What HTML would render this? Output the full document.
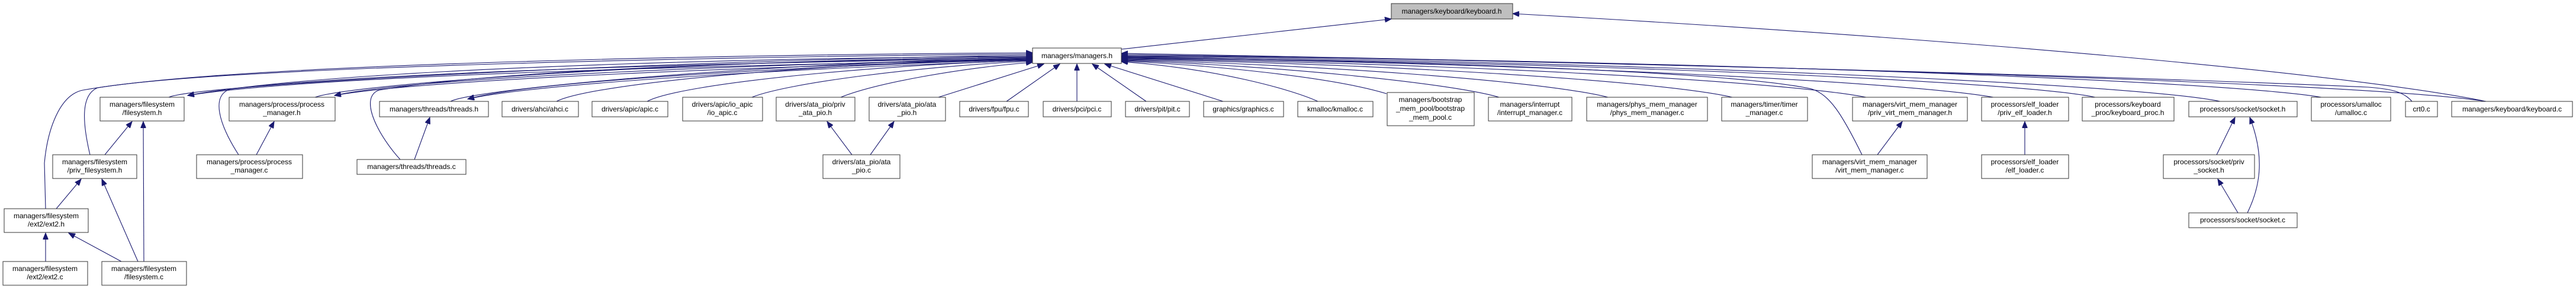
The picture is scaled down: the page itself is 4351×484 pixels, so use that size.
<!DOCTYPE html>
<html><head><meta charset="utf-8"><style>
html,body{margin:0;padding:0;background:#fff;}
svg{display:block;}
text{font-family:"Liberation Sans",sans-serif;font-size:12px;fill:#000;text-anchor:middle;}
.e{fill:none;stroke:#191970;stroke-width:1.1;}
.a{fill:none;stroke:#191970;stroke-width:1.1;marker-end:url(#ah);}
rect{fill:#fff;stroke:#333;stroke-width:1;}
</style></head><body>
<svg width="4351" height="484" viewBox="0 0 4351 484" xmlns="http://www.w3.org/2000/svg">
<defs><marker id="ah" markerUnits="userSpaceOnUse" markerWidth="12" markerHeight="9" refX="11" refY="4.5" orient="auto"><path d="M0,0 L11,4.5 L0,9 z" fill="#191970" stroke="#191970"/></marker></defs>

<!-- edges into managers.h, left side -->
<path class="a" d="M77,352 L75,275 C80,220 100,160 140,152 C400,105 1300,92 1744,89"/>
<path class="a" d="M152,261 C140,210 135,160 165,148 C400,110 1300,95 1744,91"/>
<path class="a" d="M285,164 C340,140 1200,100 1744,93"/>
<path class="a" d="M403,261 C370,210 355,160 390,150 C700,110 1400,96 1744,95"/>
<path class="a" d="M532,164 C600,140 1200,100 1744,96"/>
<path class="a" d="M676,269 C640,230 605,165 640,152 C900,110 1500,100 1744,97"/>
<path class="a" d="M761,171 C800,150 1300,105 1744,98"/>
<path class="a" d="M940,171 C1000,140 1400,105 1744,100"/>
<path class="a" d="M1093,171 C1150,140 1500,108 1744,102"/>
<path class="a" d="M1270,164 C1330,140 1550,112 1744,103"/>
<path class="a" d="M1420,164 C1480,140 1620,115 1744,105"/>
<path class="a" d="M1585,164 L1763,108"/>
<path class="a" d="M1700,171 L1790,108"/>
<path class="a" d="M1819,171 L1819,108"/>
<path class="a" d="M1936,171 L1845,108"/>
<path class="a" d="M2066,171 L1866,108"/>
<!-- extra arrows into filesystem.h / process_manager.h / threads.h -->
<path class="a" d="M1744,99 C1200,105 500,125 317,161"/>
<path class="a" d="M1744,101 C1200,110 520,128 317,161"/>
<path class="a" d="M1744,99 C1300,108 700,130 565,161"/>
<path class="a" d="M1744,101 C1300,112 720,133 565,161"/>
<path class="a" d="M1744,100 C1400,110 900,135 790,167"/>
<path class="a" d="M1744,102 C1400,113 920,138 790,167"/>
<!-- right side -->
<path class="a" d="M2226,171 C2180,150 2050,115 1894,104"/>
<path class="a" d="M2342,158 C2250,130 2050,110 1894,103"/>
<path class="a" d="M2532,164 C2450,140 2150,110 1894,102"/>
<path class="a" d="M2716,164 C2600,135 2200,108 1894,101"/>
<path class="a" d="M2926,164 C2800,135 2300,106 1894,100"/>
<path class="a" d="M3152,164 C3000,135 2400,105 1894,99"/>
<path class="a" d="M3367,164 C3200,135 2500,104 1894,98"/>
<path class="a" d="M3539,164 C3400,135 2600,103 1894,97"/>
<path class="a" d="M3145,261 C3110,190 3090,160 3060,150 C2900,115 2200,100 1894,96"/>
<path class="a" d="M3750,171 C3600,140 2700,102 1894,95"/>
<path class="a" d="M3921,164 C3750,135 2800,100 1894,94"/>
<path class="a" d="M4074,171 C4060,155 4040,150 4000,147 C3500,125 2500,100 1894,92"/>
<path class="a" d="M4199,171 C4000,140 3000,110 1894,90"/>
<!-- keyboard.h -->
<path class="a" d="M1894,83 L2350,32"/>
<path class="a" d="M4199,171 C4000,130 3400,70 2555,23"/>
<!-- local edges -->
<path class="a" d="M177,261 L223,205"/>
<path class="a" d="M243,441 L242,205"/>
<path class="a" d="M95,352 L137,302"/>
<path class="a" d="M233,441 L172,302"/>
<path class="a" d="M77,441 L77,393"/>
<path class="a" d="M205,441 L116,393"/>
<path class="a" d="M433,261 L463,205"/>
<path class="a" d="M700,269 L726,198"/>
<path class="a" d="M1439,261 L1397,205"/>
<path class="a" d="M1470,261 L1510,205"/>
<path class="a" d="M3171,261 L3213,205"/>
<path class="a" d="M3420,261 L3420,205"/>
<path class="a" d="M3744,261 L3775,198"/>
<path class="a" d="M3780,359 L3746,302"/>
<path class="a" d="M3796,359 C3815,320 3828,270 3800,198"/>

<!-- nodes -->
<rect x="2350" y="6" width="205" height="26" style="fill:#bfbfbf"/><text x="2452" y="23">managers/keyboard/keyboard.h</text>
<rect x="1744" y="81" width="150" height="26"/><text x="1819" y="98">managers/managers.h</text>

<rect x="169" y="164" width="142" height="40"/><text x="240" y="180">managers/filesystem</text><text x="240" y="194">/filesystem.h</text>
<rect x="387" y="164" width="179" height="40"/><text x="476" y="180">managers/process/process</text><text x="476" y="194">_manager.h</text>
<rect x="641" y="171" width="184" height="26"/><text x="733" y="188">managers/threads/threads.h</text>
<rect x="848" y="171" width="129" height="26"/><text x="912" y="188">drivers/ahci/ahci.c</text>
<rect x="1000" y="171" width="128" height="26"/><text x="1064" y="188">drivers/apic/apic.c</text>
<rect x="1153" y="164" width="135" height="40"/><text x="1220" y="180">drivers/apic/io_apic</text><text x="1220" y="194">/io_apic.c</text>
<rect x="1311" y="164" width="133" height="40"/><text x="1377" y="180">drivers/ata_pio/priv</text><text x="1377" y="194">_ata_pio.h</text>
<rect x="1468" y="164" width="129" height="40"/><text x="1532" y="180">drivers/ata_pio/ata</text><text x="1532" y="194">_pio.h</text>
<rect x="1621" y="171" width="116" height="26"/><text x="1679" y="188">drivers/fpu/fpu.c</text>
<rect x="1762" y="171" width="115" height="26"/><text x="1819" y="188">drivers/pci/pci.c</text>
<rect x="1901" y="171" width="108" height="26"/><text x="1955" y="188">drivers/pit/pit.c</text>
<rect x="2033" y="171" width="135" height="26"/><text x="2100" y="188">graphics/graphics.c</text>
<rect x="2192" y="171" width="127" height="26"/><text x="2255" y="188">kmalloc/kmalloc.c</text>
<rect x="2343" y="156" width="147" height="56"/><text x="2416" y="172">managers/bootstrap</text><text x="2416" y="187">_mem_pool/bootstrap</text><text x="2416" y="202">_mem_pool.c</text>
<rect x="2514" y="164" width="141" height="40"/><text x="2584" y="180">managers/interrupt</text><text x="2584" y="194">/interrupt_manager.c</text>
<rect x="2680" y="164" width="204" height="40"/><text x="2782" y="180">managers/phys_mem_manager</text><text x="2782" y="194">/phys_mem_manager.c</text>
<rect x="2908" y="164" width="145" height="40"/><text x="2980" y="180">managers/timer/timer</text><text x="2980" y="194">_manager.c</text>
<rect x="3129" y="164" width="194" height="40"/><text x="3226" y="180">managers/virt_mem_manager</text><text x="3226" y="194">/priv_virt_mem_manager.h</text>
<rect x="3347" y="164" width="147" height="40"/><text x="3420" y="180">processors/elf_loader</text><text x="3420" y="194">/priv_elf_loader.h</text>
<rect x="3517" y="164" width="155" height="40"/><text x="3594" y="180">processors/keyboard</text><text x="3594" y="194">_proc/keyboard_proc.h</text>
<rect x="3697" y="171" width="183" height="26"/><text x="3788" y="188">processors/socket/socket.h</text>
<rect x="3904" y="164" width="134" height="40"/><text x="3971" y="180">processors/umalloc</text><text x="3971" y="194">/umalloc.c</text>
<rect x="4063" y="171" width="54" height="26"/><text x="4090" y="188">crt0.c</text>
<rect x="4141" y="171" width="204" height="26"/><text x="4243" y="188">managers/keyboard/keyboard.c</text>

<rect x="89" y="261" width="142" height="40"/><text x="160" y="277">managers/filesystem</text><text x="160" y="291">/priv_filesystem.h</text>
<rect x="332" y="261" width="179" height="40"/><text x="421" y="277">managers/process/process</text><text x="421" y="291">_manager.c</text>
<rect x="603" y="269" width="184" height="25"/><text x="695" y="285">managers/threads/threads.c</text>
<rect x="1390" y="261" width="130" height="40"/><text x="1455" y="277">drivers/ata_pio/ata</text><text x="1455" y="291">_pio.c</text>
<rect x="3061" y="261" width="194" height="40"/><text x="3158" y="277">managers/virt_mem_manager</text><text x="3158" y="291">/virt_mem_manager.c</text>
<rect x="3347" y="261" width="147" height="40"/><text x="3420" y="277">processors/elf_loader</text><text x="3420" y="291">/elf_loader.c</text>
<rect x="3654" y="261" width="154" height="40"/><text x="3731" y="277">processors/socket/priv</text><text x="3731" y="291">_socket.h</text>

<rect x="7" y="352" width="142" height="40"/><text x="78" y="368">managers/filesystem</text><text x="78" y="382">/ext2/ext2.h</text>
<rect x="3697" y="359" width="183" height="25"/><text x="3788" y="375">processors/socket/socket.c</text>

<rect x="5" y="441" width="143" height="40"/><text x="76" y="457">managers/filesystem</text><text x="76" y="471">/ext2/ext2.c</text>
<rect x="172" y="441" width="143" height="40"/><text x="243" y="457">managers/filesystem</text><text x="243" y="471">/filesystem.c</text>
</svg>
</body></html>
